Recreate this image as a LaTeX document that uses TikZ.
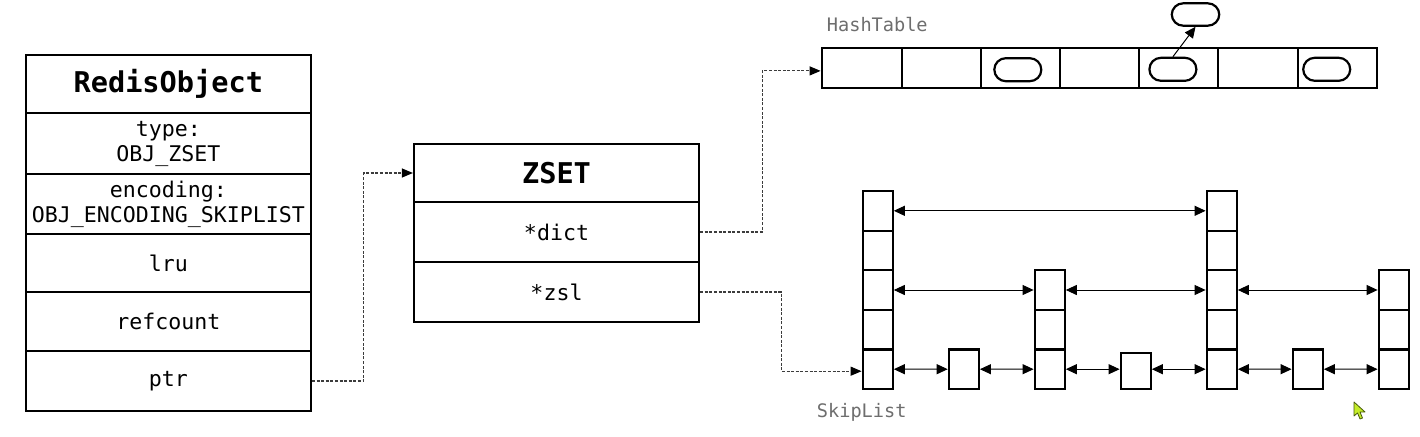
\documentclass[tikz,border=0pt]{standalone}
\usepackage{fontspec}
\setmainfont{DejaVu Sans Mono}
\setmonofont{DejaVu Sans Mono}
\usetikzlibrary{arrows.meta}
\definecolor{labgray}{HTML}{6E6E6E}
\definecolor{dashgray}{HTML}{3C3C3C}
\definecolor{cursorfill}{RGB}{196,236,40}
\definecolor{cursordraw}{RGB}{70,90,10}
\begin{document}
\begin{tikzpicture}[x=1pt,y=-1pt,
  cell/.style={draw, line width=2.2pt, inner sep=0pt, minimum width=285pt, align=center,
    font=\fontsize{21.6}{25}\selectfont},
  headcell/.style={cell, font=\bfseries\fontsize{28.6}{30}\selectfont},
  hcell/.style={draw, line width=2.2pt, inner sep=0pt, minimum height=40.3pt},
  oval/.style={draw, line width=2.2pt, inner sep=0pt, minimum width=47pt, minimum height=23pt, rounded corners=11.5pt},
  slcell/.style={draw, line width=2.2pt, inner sep=0pt, minimum width=30pt, minimum height=39.6pt},
  lab/.style={inner sep=0pt, text=labgray, font=\fontsize{18.6}{20}\selectfont},
  conn/.style={draw=dashgray, line width=1.1pt, dash pattern=on 3pt off 1.6pt,
    -{Triangle[length=11pt,width=9pt,black]}},
  sl/.style={draw=black, line width=1pt,
    {Triangle[length=11pt,width=10pt]}-{Triangle[length=11pt,width=10pt]}},
  ptrarrow/.style={draw=black, line width=1pt, -{Triangle[length=11pt,width=10pt]}}
]
\useasboundingbox (0,0) rectangle (1420,436);
\fill[white] (0,0) rectangle (1420,436);

% RedisObject
\node[headcell, minimum height=58pt] (ro) at (168.3,84) {RedisObject};
\node[cell, minimum height=61pt] (rtype) at (168.3,143.5) {type:\\OBJ\_ZSET};
\node[cell, minimum height=60pt] (renc) at (168.3,204) {encoding:\\OBJ\_ENCODING\_SKIPLIST};
\node[cell, minimum height=58pt] (rlru) at (168.3,263) {lru};
\node[cell, minimum height=59pt] (rref) at (168.3,321.5) {refcount};
\node[cell, minimum height=60pt] (rptr) at (168.3,381) {ptr};

% ZSET
\node[headcell, minimum height=58pt] (zhead) at (556.5,173) {ZSET};
\node[cell, minimum height=60pt] (zdict) at (556.5,232) {*dict};
\node[cell, minimum height=60pt] (zzsl) at (556.5,292) {*zsl};

% HashTable
\node[lab, anchor=base west] (htlab) at (826.7,31.7) {HashTable};
\node[hcell, minimum width=80pt] (h1) at (861.7,67.9) {};
\node[hcell, minimum width=79.3pt] (h2) at (941.35,67.9) {};
\node[hcell, minimum width=79pt] (h3) at (1020.5,67.9) {};
\node[hcell, minimum width=79.3pt] (h4) at (1099.65,67.9) {};
\node[hcell, minimum width=79pt] (h5) at (1178.8,67.9) {};
\node[hcell, minimum width=80pt] (h6) at (1258.3,67.9) {};
\node[hcell, minimum width=79pt] (h7) at (1337.8,67.9) {};
\node[oval] (o1) at (1017.8,69.7) {};
\node[oval] (o2) at (1172.9,69.3) {};
\node[oval] (o3) at (1326.7,69.3) {};
\node[oval, minimum width=47.6pt, minimum height=22.4pt] (otop) at (1195.5,14.5) {};
\draw[ptrarrow] (o2.north) -- (otop.south);

% SkipList columns
\foreach \r in {1,...,5} \node[slcell] (c1r\r) at (877.7,{191+39.6*(\r-0.5)}) {};
\foreach \r in {3,4,5} \node[slcell] (c3r\r) at (1049.7,{191+39.6*(\r-0.5)}) {};
\foreach \r in {1,...,5} \node[slcell] (c5r\r) at (1221.7,{191+39.6*(\r-0.5)}) {};
\foreach \r in {3,4,5} \node[slcell] (c7r\r) at (1393.7,{191+39.6*(\r-0.5)}) {};
\node[slcell] (s1) at (963.8,369.2) {};
\node[slcell, minimum height=36.3pt] (s2) at (1135.7,370.8) {};
\node[slcell] (s3) at (1307.7,369.2) {};
\node[lab, anchor=base west] (sllab) at (816.7,417) {SkipList};

% SkipList links
\draw[sl] (c1r1.east) -- (c5r1.west);
\draw[sl] (c1r3.east) -- (c3r3.west);
\draw[sl] (c3r3.east) -- (c5r3.west);
\draw[sl] (c5r3.east) -- (c7r3.west);
\draw[sl] (c1r5.east) -- (s1.west);
\draw[sl] (s1.east) -- (c3r5.west);
\draw[sl] (c3r5.east) -- (c3r5.east -| s2.west);
\draw[sl] (s2.east |- c5r5.west) -- (c5r5.west);
\draw[sl] (c5r5.east) -- (s3.west);
\draw[sl] (s3.east) -- (c7r5.west);

% dashed pointers
\draw[conn] (rptr.east) -- ++(52,0) |- (zhead.west);
\draw[conn] (zdict.east) -- ++(62,0) |- ([yshift=-3pt]h1.west);
\draw[conn] (zzsl.east) -- ++(81,0) |- ([yshift=-2pt]c1r5.west);

% mouse cursor
\filldraw[fill=cursorfill, draw=cursordraw, line width=0.8pt, line join=round]
  (1354,402) -- (1354,416) -- (1357.5,413) -- (1360,419) -- (1362.5,418) -- (1360,412) -- (1365,412) -- cycle;
\end{tikzpicture}
\end{document}
